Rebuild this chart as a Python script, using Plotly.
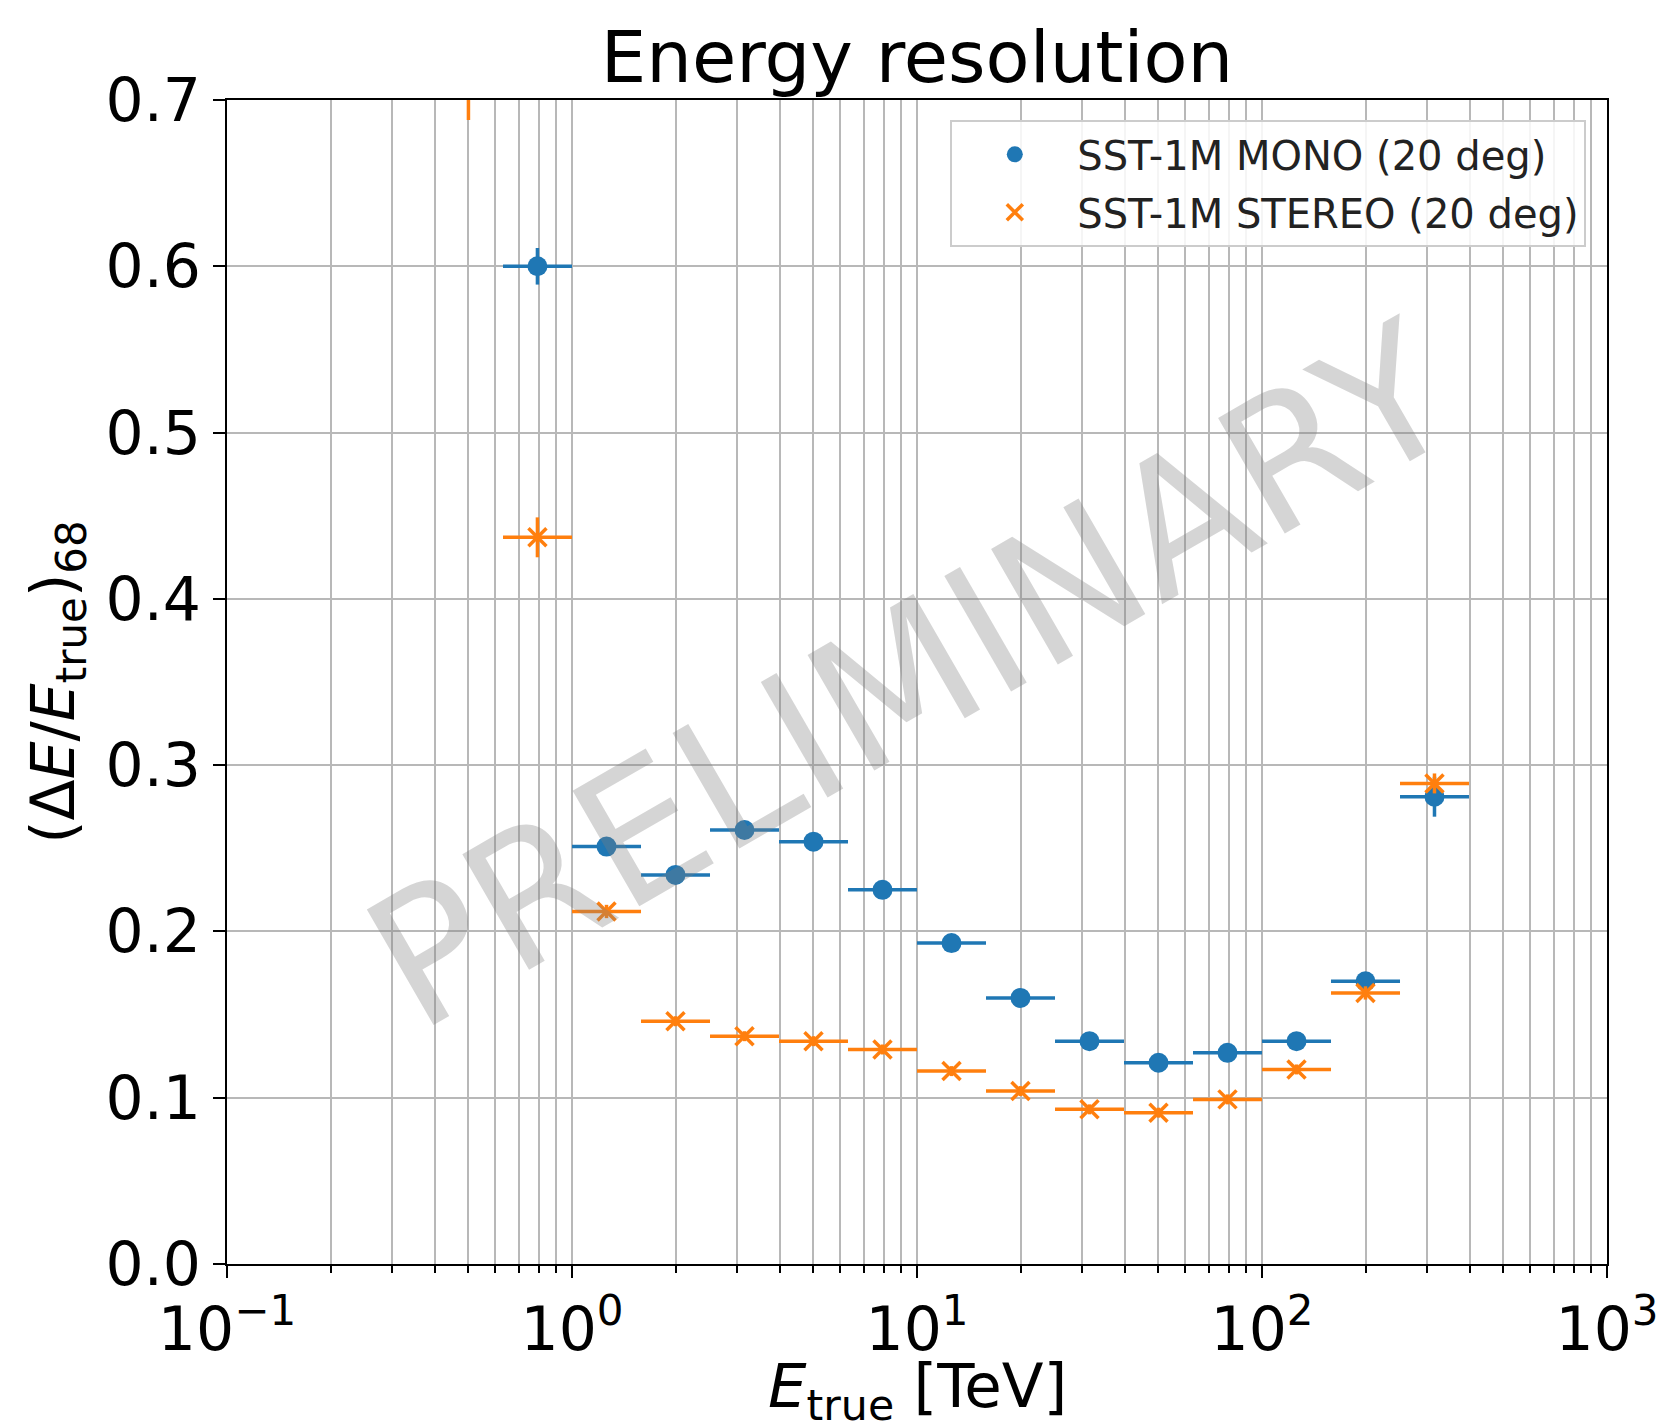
import plotly.graph_objects as go

# ---- data ----
bin_lo = [0.398, 0.631, 1.000, 1.585, 2.512, 3.981, 6.310, 10.00, 15.85, 25.12, 39.81, 63.10, 100.0, 158.5, 251.2]
bin_center = [0.501, 0.794, 1.259, 1.995, 3.162, 5.012, 7.943, 12.59, 19.95, 31.62, 50.12, 79.43, 125.9, 199.5, 316.2]
bin_hi = [0.631, 1.000, 1.585, 2.512, 3.981, 6.310, 10.00, 15.85, 25.12, 39.81, 63.10, 100.0, 158.5, 251.2, 398.1]

mono_res = [None, 0.600, 0.251, 0.234, 0.261, 0.254, 0.225, 0.193, 0.160, 0.134, 0.121, 0.127, 0.134, 0.170, 0.281]
mono_err = [None, 0.011, 0.004, 0.003, 0.003, 0.003, 0.003, 0.003, 0.003, 0.003, 0.003, 0.003, 0.003, 0.004, 0.012]

stereo_res = [0.750, 0.437, 0.212, 0.146, 0.137, 0.134, 0.129, 0.116, 0.104, 0.093, 0.091, 0.099, 0.117, 0.163, 0.289]
stereo_err = [0.062, 0.012, 0.004, 0.003, 0.003, 0.003, 0.003, 0.003, 0.003, 0.003, 0.003, 0.003, 0.003, 0.004, 0.006]

x_tickvals = [0.1, 1, 10, 100, 1000]
x_ticktext = ["10<sup>\u22121</sup>", "10<sup>0</sup>", "10<sup>1</sup>", "10<sup>2</sup>", "10<sup>3</sup>"]

series_names = ["SST-1M MONO (20 deg)", "SST-1M STEREO (20 deg)"]
BLUE = "#1f77b4"
ORANGE = "#ff7f0e"
FONT = "DejaVu Sans"

xerr_plus = [h - c for h, c in zip(bin_hi, bin_center)]
xerr_minus = [c - l for c, l in zip(bin_center, bin_lo)]

minor_vals = [k * 10.0 ** n for n in range(-1, 3) for k in range(2, 10)]

fig = go.Figure()

fig.add_trace(go.Scatter(
    x=bin_center, y=mono_res, mode="markers", name=series_names[0], legendgroup="mono",
    marker=dict(symbol="circle", size=20, color=BLUE),
    error_x=dict(type="data", symmetric=False, array=xerr_plus, arrayminus=xerr_minus,
                 thickness=3.5, width=0, color=BLUE),
    error_y=dict(type="data", array=mono_err, thickness=3.5, width=0, color=BLUE),
))

fig.add_trace(go.Scatter(
    x=bin_center, y=stereo_res, mode="markers", name=series_names[1], legendgroup="stereo",
    marker=dict(symbol="x-thin-open", size=18, color=ORANGE, line=dict(width=3.5, color=ORANGE)),
    error_x=dict(type="data", symmetric=False, array=xerr_plus, arrayminus=xerr_minus,
                 thickness=3.5, width=0, color=ORANGE),
    error_y=dict(type="data", array=stereo_err, thickness=3.5, width=0, color=ORANGE),
))

GRID = "#b8b8b8"

fig.update_layout(
    width=1659, height=1424,
    margin=dict(l=227, r=52, t=100, b=160),
    plot_bgcolor="white", paper_bgcolor="white",
    font=dict(family=FONT, color="black"),
    title=dict(text="Energy resolution", font=dict(size=72, family=FONT, color="black"),
               x=0.5, xref="paper", xanchor="center",
               y=1, yref="paper", yanchor="bottom", pad=dict(b=18)),
    showlegend=True,
    legend=dict(x=0.985, xanchor="right", y=0.983, yanchor="top",
                bgcolor="rgba(255,255,255,0.85)", bordercolor="#cccccc", borderwidth=2,
                font=dict(size=40, family=FONT, color="#222222"),
                itemwidth=115, tracegroupgap=3),
    annotations=[
        dict(text="PRELIMINARY", x=0.495, y=0.505, xref="paper", yref="paper",
             showarrow=False, textangle=-30,
             font=dict(size=183, family=FONT, color="rgba(128,128,128,0.33)")),
        dict(text="<i>E</i><sub>true</sub> [TeV]", x=0.5, y=-0.0725, xref="paper", yref="paper",
             xanchor="center", yanchor="top", showarrow=False,
             font=dict(size=61, family=FONT, color="black")),
    ],
)

fig.update_xaxes(
    type="log", range=[-1, 3],
    showline=True, mirror=True, linecolor="black", linewidth=2,
    ticks="outside", ticklen=12, tickwidth=2, tickcolor="black",
    tickmode="array", tickvals=x_tickvals, ticktext=x_ticktext,
    tickfont=dict(size=60, family=FONT, color="black"),
    showgrid=True, gridcolor=GRID, gridwidth=2,
    minor=dict(tickmode="array", tickvals=minor_vals, ticks="outside", ticklen=7,
               tickwidth=2, tickcolor="black", showgrid=True, gridcolor=GRID, gridwidth=2),
    automargin=False,
)

fig.update_yaxes(
    range=[0, 0.7], tick0=0, dtick=0.1, tickformat=".1f",
    showline=True, mirror=True, linecolor="black", linewidth=2,
    ticks="outside", ticklen=12, tickwidth=2, tickcolor="black",
    tickfont=dict(size=60, family=FONT, color="black"),
    showgrid=True, gridcolor=GRID, gridwidth=2, zeroline=False,
    title=dict(text="(\u0394<i>E</i>/<i>E</i><sub>true</sub>)<sub>68</sub>",
               font=dict(size=60, family=FONT, color="black"), standoff=12),
    automargin=False,
)

fig.write_html("out.html")
